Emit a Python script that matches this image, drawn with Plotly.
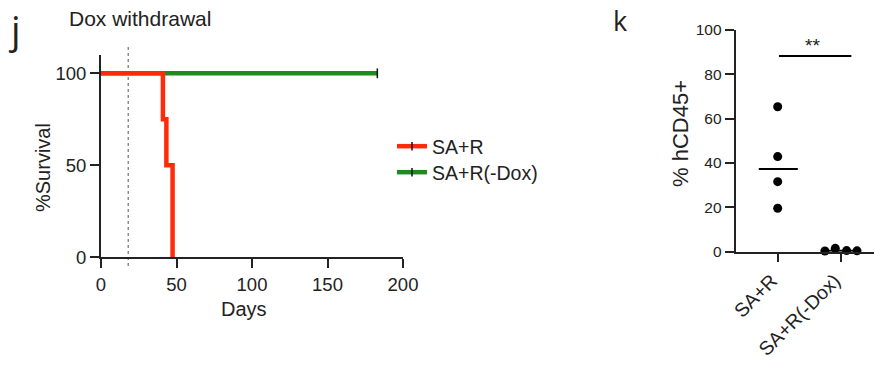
import numpy as np
import plotly.graph_objects as go

# ---- data: panel j (Kaplan-Meier survival) ----
red_days = [0, 41, 43.3, 47.4]
red_surv = [100, 75, 50, 0]
green_days = [0, 183]
green_surv = [100, 100]
green_censor_day = [183]
green_censor_surv = [100]
dox_withdrawal_day = 18
x_ticks_j = [0, 50, 100, 150, 200]
y_ticks_j = [0, 50, 100]
y_minor_step_j = 5

# ---- data: panel k (% hCD45+) ----
categories = ["SA+R", "SA+R(-Dox)"]
sar_vals = [65.4, 42.9, 31.6, 19.6]
sar_jitter = [0, 0, 0, 0]
dox_vals = [0.3, 1.5, 0.5, 0.4]
dox_jitter = [-0.25, -0.085, 0.095, 0.26]
sig_y = 88.3
sig_label = "**"
y_ticks_k = [0, 20, 40, 60, 80, 100]

W, H = 874, 366
FONT = "Liberation Sans, Arial, sans-serif"
TXT = "#222222"
RED = "#ff2a0a"
GREEN = "#1c8c1c"

X_LEFT_J, X_RIGHT_J = 101, 403   # pixel extent of the survival x-axis
x_range_j = [0, 200]
y_range_j = [0, 110]
MINOR_LEN = 6

fig = go.Figure()

# panel j traces
fig.add_trace(go.Scatter(x=green_days, y=green_surv, mode="lines", line=dict(color=GREEN, width=4.5),
                         xaxis="x", yaxis="y", showlegend=False, cliponaxis=False, hoverinfo="skip"))
fig.add_trace(go.Scatter(x=green_censor_day, y=green_censor_surv, mode="markers",
                         marker=dict(symbol="line-ns-open", size=7, color="#111", line=dict(color="#111", width=1.5)),
                         xaxis="x", yaxis="y", showlegend=False, cliponaxis=False))
fig.add_trace(go.Scatter(x=red_days, y=red_surv, mode="lines", line=dict(color=RED, width=4.5, shape="hv"),
                         xaxis="x", yaxis="y", showlegend=False, cliponaxis=False))

# minor ticks of the survival axis (every 5 %), drawn just left of the axis line
minor_vals = [float(v) for v in np.arange(y_range_j[0], y_range_j[1] + 0.1, y_minor_step_j) if v not in y_ticks_j]
px_per_day = (X_RIGHT_J - X_LEFT_J) / (x_range_j[1] - x_range_j[0])
fig.add_trace(go.Scatter(x=[-(MINOR_LEN / 2 + 0.5) / px_per_day] * len(minor_vals), y=minor_vals, mode="markers",
                         marker=dict(symbol="line-ew-open", size=MINOR_LEN, color=TXT, line=dict(color=TXT, width=2)),
                         xaxis="x", yaxis="y", showlegend=False, cliponaxis=False, hoverinfo="skip"))

# legend entries (two separate legends for exact spacing)
for name, col, lg in [("SA+R", RED, "legend"), ("SA+R(-Dox)", GREEN, "legend2")]:
    fig.add_trace(go.Scatter(x=[None], y=[None], mode="lines+markers", name=name, legend=lg,
                             line=dict(color=col, width=4.5),
                             marker=dict(symbol="line-ns-open", size=6, color="#111", line=dict(color="#111", width=1.5)),
                             xaxis="x", yaxis="y"))

# panel k traces
fig.add_trace(go.Scatter(x=[0 + j for j in sar_jitter], y=sar_vals, mode="markers",
                         marker=dict(color="black", size=9), xaxis="x2", yaxis="y2",
                         showlegend=False, cliponaxis=False))
fig.add_trace(go.Scatter(x=[1 + j for j in dox_jitter], y=dox_vals, mode="markers",
                         marker=dict(color="black", size=9), xaxis="x2", yaxis="y2",
                         showlegend=False, cliponaxis=False))
med_sar = float(np.median(sar_vals))
med_dox = float(np.median(dox_vals))
fig.add_trace(go.Scatter(x=[-0.3, 0.32], y=[med_sar, med_sar], mode="lines", line=dict(color="black", width=2),
                         xaxis="x2", yaxis="y2", showlegend=False, cliponaxis=False))
fig.add_trace(go.Scatter(x=[0.7, 1.32], y=[med_dox, med_dox], mode="lines", line=dict(color="black", width=2),
                         xaxis="x2", yaxis="y2", showlegend=False, cliponaxis=False))
fig.add_trace(go.Scatter(x=[0.02, 1.17], y=[sig_y, sig_y], mode="lines", line=dict(color="black", width=2),
                         xaxis="x2", yaxis="y2", showlegend=False, cliponaxis=False))

axis_common = dict(showline=True, linewidth=2, linecolor=TXT, ticks="outside", tickwidth=2, tickcolor=TXT,
                   showgrid=False, zeroline=False, automargin=False,
                   tickfont=dict(size=18.5, color=TXT, family=FONT))

legend_common = dict(xanchor="left", yanchor="top", font=dict(size=19.5, color=TXT, family=FONT),
                     bgcolor="rgba(0,0,0,0)", itemwidth=30)

fig.update_layout(
    width=W, height=H, margin=dict(l=0, r=0, t=0, b=0, autoexpand=False),
    paper_bgcolor="white", plot_bgcolor="white",
    font=dict(family=FONT, color=TXT),
    xaxis=dict(domain=[X_LEFT_J / W, X_RIGHT_J / W], range=x_range_j, tickmode="array", tickvals=x_ticks_j,
               ticklen=9, anchor="y", **axis_common),
    yaxis=dict(domain=[(H - 257.3) / H, (H - 54.9) / H], range=y_range_j, tickmode="array", tickvals=y_ticks_j,
               ticklen=9, anchor="x", **axis_common),
    xaxis2=dict(domain=[735.7 / W, 1.0], range=[-0.667, 1.53], tickmode="array", tickvals=[0, 1], ticktext=categories,
                tickangle=-45, ticklen=8, anchor="y2", ticklabelshift=-6,
                **{**axis_common, "tickfont": dict(size=19.5, color=TXT, family=FONT)}),
    yaxis2=dict(domain=[(H - 251.7) / H, (H - 30) / H], range=[0, 100], tickmode="array", tickvals=y_ticks_k,
                ticklen=9, anchor="x2",
                **{**axis_common, "tickfont": dict(size=15.5, color=TXT, family=FONT)}),
    legend=dict(x=392 / W, y=1 - 127 / H, **legend_common),
    legend2=dict(x=392 / W, y=1 - 153 / H, **legend_common),
    showlegend=True,
)

fig.add_shape(type="line", xref="x", yref="paper", x0=dox_withdrawal_day, x1=dox_withdrawal_day,
              y0=1 - 266 / H, y1=1 - 47 / H, line=dict(color="#555", width=1, dash="dot"), layer="below")

def ann(text, x, y, size, angle=0, family=FONT):
    fig.add_annotation(text=text, xref="paper", yref="paper", x=x / W, y=1 - y / H, showarrow=False,
                       xanchor="center", yanchor="middle", textangle=angle,
                       font=dict(size=size, family=family, color=TXT))

ann("j", 14, 29, 38, family="Open Sans, sans-serif")
ann("Dox withdrawal", 140, 19, 21)
ann("k", 620, 21, 27, family="Open Sans, sans-serif")
ann("Days", 244, 309, 20)
ann("%Survival", 43, 168, 20, angle=-90)
ann("% hCD45+", 680, 134, 22, angle=-90)
fig.add_annotation(text=sig_label, xref="x2", yref="y2", x=0.56, y=sig_y, yanchor="bottom", yshift=-2,
                   showarrow=False, font=dict(size=19, color=TXT))

fig.write_html("out.html", post_script="document.body.style.margin='0';",
               config={"displayModeBar": False})
